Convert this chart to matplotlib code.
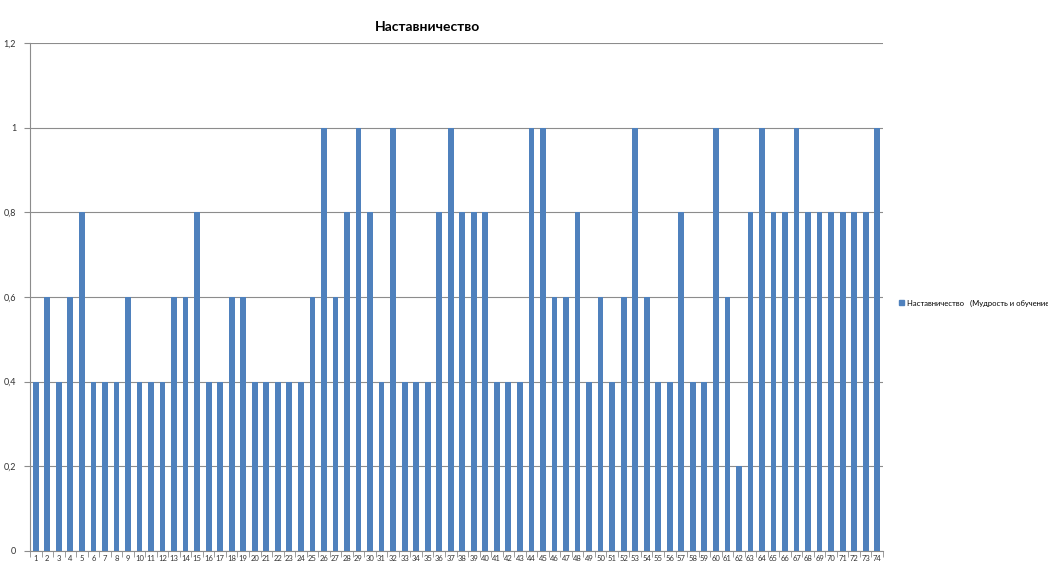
import matplotlib
matplotlib.use("Agg")
import matplotlib.pyplot as plt
from matplotlib.ticker import FuncFormatter

categories = list(range(1, 75))
values = [0.4, 0.6, 0.4, 0.6, 0.8, 0.4, 0.4, 0.4, 0.6, 0.4,
          0.4, 0.4, 0.6, 0.6, 0.8, 0.4, 0.4, 0.6, 0.6, 0.4,
          0.4, 0.4, 0.4, 0.4, 0.6, 1.0, 0.6, 0.8, 1.0, 0.8,
          0.4, 1.0, 0.4, 0.4, 0.4, 0.8, 1.0, 0.8, 0.8, 0.8,
          0.4, 0.4, 0.4, 1.0, 1.0, 0.6, 0.6, 0.8, 0.4, 0.6,
          0.4, 0.6, 1.0, 0.6, 0.4, 0.4, 0.8, 0.4, 0.4, 1.0,
          0.6, 0.2, 0.8, 1.0, 0.8, 0.8, 1.0, 0.8, 0.8, 0.8,
          0.8, 0.8, 0.8, 1.0]
yticks = [0, 0.2, 0.4, 0.6, 0.8, 1.0, 1.2]
title = "Наставничество"
series_name = "Наставничество   (Мудрость и обучение)"

plt.rcParams['font.family'] = ['Lato', 'DejaVu Sans']
fig = plt.figure(figsize=(10.48, 5.64), dpi=100)
ax = fig.add_axes([30/1048, 13/564, 853/1048, 508/564])

bar_color = "#4F81BD"
ax.bar(categories, values, width=0.5, color=bar_color, zorder=3)

ax.set_xlim(0.5, 74.5)
ax.set_ylim(0, 1.2)
ax.set_yticks(yticks)
ax.yaxis.set_major_formatter(FuncFormatter(lambda v, p: ("%g" % v).replace(".", ",")))
ax.grid(axis="y", color="#8c8c8c", linewidth=0.8, zorder=0)
ax.set_axisbelow(True)

for s in ["top", "right"]:
    ax.spines[s].set_visible(False)
ax.spines["left"].set_color("#8c8c8c")
ax.spines["bottom"].set_color("#8c8c8c")

ax.set_xticks(categories)
ax.set_xticklabels([str(c) for c in categories], fontsize=5.5, color="#333333")
ax.set_xticks([c + 0.5 for c in [0] + categories], minor=True)
ax.tick_params(axis="x", which="major", length=0, pad=3)
ax.tick_params(axis="x", which="minor", length=4, color="#8c8c8c", direction="out")
ax.tick_params(axis="y", labelsize=6.5, length=4, color="#8c8c8c", labelcolor="#333333", pad=6)

fig.text(427/1048, 1 - 27/564, title, ha="center", va="center", fontsize=10, fontweight="bold")

leg = fig.legend([plt.Rectangle((0, 0), 1, 1, color=bar_color)], [series_name],
                 loc="center left", bbox_to_anchor=(895/1048, 1 - 303/564),
                 frameon=False, fontsize=5.5, handlelength=0.7, handleheight=0.7,
                 handletextpad=0.4, borderpad=0)

fig.savefig("out.png", dpi=100)
